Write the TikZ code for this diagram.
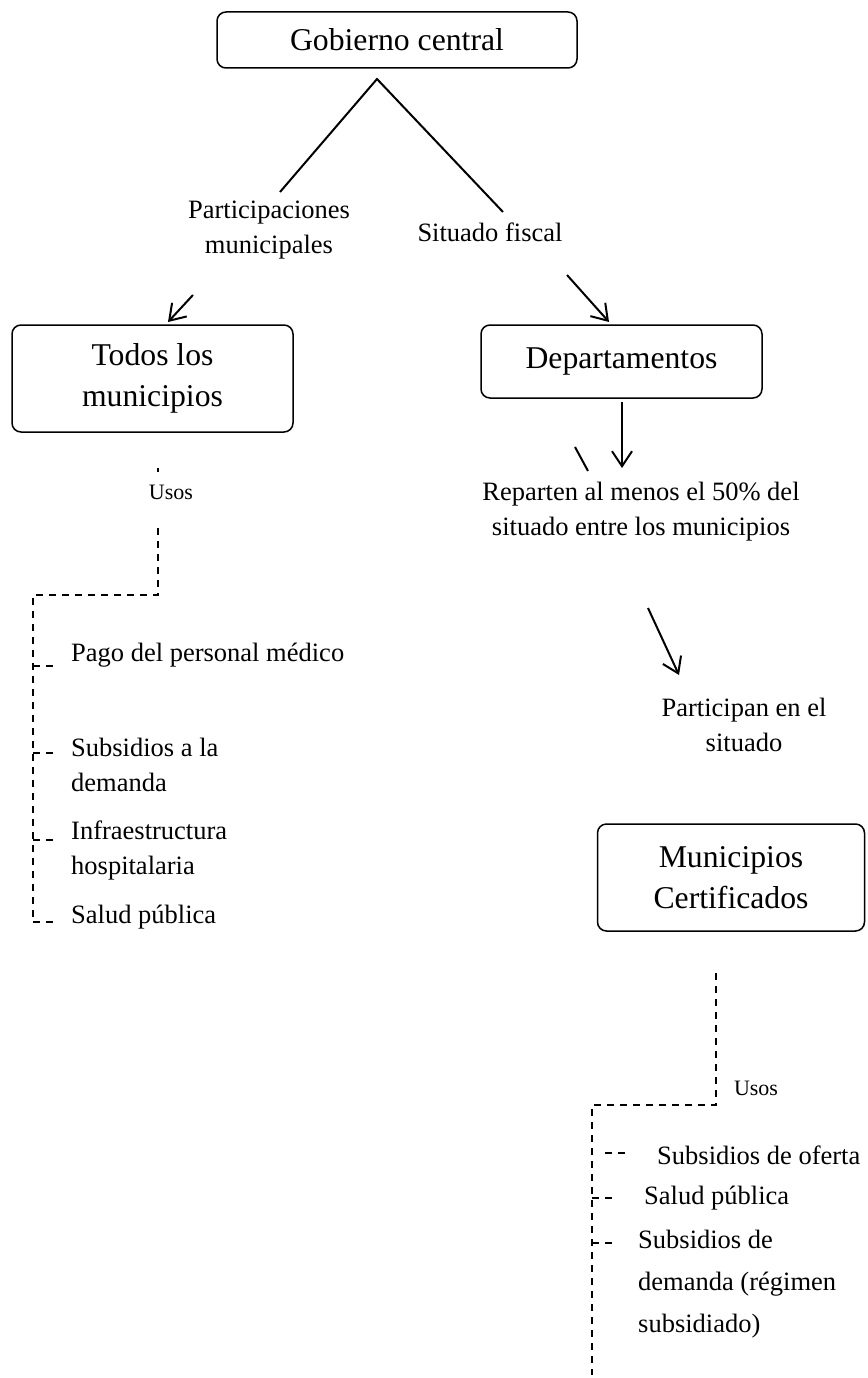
\documentclass[tikz,border=0pt]{standalone}
\usepackage{fontspec}
\setmainfont{Liberation Serif}
\usetikzlibrary{arrows.meta}
\begin{document}
\begin{tikzpicture}[x=1pt,y=-1pt,
  box/.style={draw,line width=1.5pt,rounded corners=9pt,align=center,inner sep=0pt,
    font=\fontsize{31.7}{41}\selectfont},
  lbl/.style={align=center,inner sep=0pt,font=\fontsize{26.5}{35}\selectfont},
  item/.style={align=left,inner sep=0pt,anchor=west,font=\fontsize{26.5}{35}\selectfont},
  usos/.style={inner sep=0pt,font=\fontsize{22}{26}\selectfont},
  solid line/.style={line width=2pt},
  arr/.style={line width=2pt,-{Straight Barb[length=15pt,width=20pt,line width=2pt]}},
  dline/.style={line width=1.6pt,dash pattern=on 7pt off 6pt}
]
\useasboundingbox (0,0) rectangle (867,1378);

% boxes
\node[box,minimum width=360pt,minimum height=56pt] (gob) at (397,40) {Gobierno central};
\node[box,minimum width=281pt,minimum height=107pt] (todos) at (152.5,378.5) {Todos los\\municipios};
\node[box,minimum width=281pt,minimum height=73pt] (dep) at (621.5,361.5) {Departamentos};
\node[box,minimum width=267pt,minimum height=107pt] (cert) at (731,877.5) {Municipios\\Certificados};

% labels
\node[lbl] (part) at (269,230) {Participaciones\\municipales};
\node[lbl] (sit) at (490,232) {Situado fiscal};
\node[lbl] (rep) at (641,512) {Reparten al menos el 50\% del\\situado entre los municipios};
\node[lbl] (partic) at (744,725) {Participan en el\\situado};
\node[usos] (usosL) at (171,492) {Usos};
\node[usos] (usosR) at (756,1088) {Usos};

% left list
\node[item] (pago) at (71,655) {Pago del personal médico};
\node[item] (subdem) at (71,764.5) {Subsidios a la\\demanda};
\node[item] (infra) at (71,850.5) {Infraestructura\\hospitalaria};
\node[item] (saludL) at (71,917) {Salud pública};

% right list
\node[item] (oferta) at (657,1155) {Subsidios de oferta};
\node[item] (saludR) at (644,1198) {Salud pública};
\node[item,font=\fontsize{26.5}{42}\selectfont] (regimen) at (638,1284) {Subsidios de\\demanda (régimen\\subsidiado)};

% connector points
\coordinate (apex) at (377,79);
\coordinate (lend) at (280,192);
\coordinate (rend) at (503,212);
\coordinate (a1s) at (193,295);
\coordinate (a1e) at (168,322);
\coordinate (a2s) at (567,275);
\coordinate (a2e) at (609,322);
\coordinate (a3s) at (622,402);
\coordinate (a3e) at (622,468);
\coordinate (st1) at (575,447);
\coordinate (st2) at (588,471);
\coordinate (a4s) at (648,608);
\coordinate (a4e) at (679,675);

\draw[solid line] (lend) -- (apex) -- (rend);
\draw[arr] (a1s) -- (a1e);
\draw[arr] (a2s) -- (a2e);
\draw[arr] (a3s) -- (a3e);
\draw[solid line] (st1) -- (st2);
\draw[arr] (a4s) -- (a4e);

% left dashed tree
\coordinate (ld0) at (158,468);
\coordinate (ld1) at (158,472);
\coordinate (ld2) at (158,528);
\coordinate (ld3) at (158,595);
\coordinate (ld4) at (33,595);
\coordinate (ld5) at (33,922);
\draw[line width=1.6pt] (ld0) -- (ld1);
\draw[dline] (ld2) -- (ld3) -- (ld4) -- (ld5);
\coordinate (t1a) at (33,666); \coordinate (t1b) at (57,666);
\coordinate (t2a) at (33,753); \coordinate (t2b) at (57,753);
\coordinate (t3a) at (33,840); \coordinate (t3b) at (57,840);
\coordinate (t4a) at (33,922); \coordinate (t4b) at (57,922);
\draw[dline] (t1a) -- (t1b);
\draw[dline] (t2a) -- (t2b);
\draw[dline] (t3a) -- (t3b);
\draw[dline] (t4a) -- (t4b);

% right dashed tree
\coordinate (rd1) at (716,973);
\coordinate (rd2) at (716,1105);
\coordinate (rd3) at (592,1105);
\coordinate (rd4) at (592,1375);
\draw[dline] (rd1) -- (rd2) -- (rd3) -- (rd4);
\coordinate (r1a) at (605,1153); \coordinate (r1b) at (630,1153);
\coordinate (r2a) at (592,1198); \coordinate (r2b) at (618,1198);
\coordinate (r3a) at (592,1243); \coordinate (r3b) at (618,1243);
\draw[dline] (r1a) -- (r1b);
\draw[dline] (r2a) -- (r2b);
\draw[dline] (r3a) -- (r3b);
\end{tikzpicture}
\end{document}
